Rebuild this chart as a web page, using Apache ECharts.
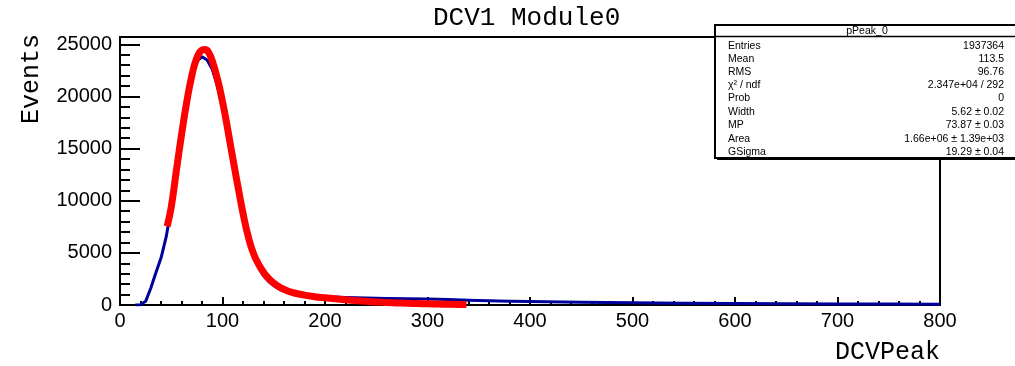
<!DOCTYPE html>
<html><head><meta charset="utf-8">
<script src="https://cdn.jsdelivr.net/npm/echarts@6/dist/echarts.min.js"></script>
<style>html,body{margin:0;padding:0;background:#fff}#c{width:1015px;height:366px}</style>
</head><body><div id="c"></div>
<script>
// Histogram (blue)
const histX = [15,20,25,30,35,40,45,50,55,60,65,70,75,80,85,90,95,100,105,110,115,120,125,130,135,140,145,150,155,160,165,170,180,190,200,220,240,260,280,300,320,340,360,380,400,450,500,550,600,650,700,750,800];
const histY = [0,30,350,1600,3100,4500,6500,9300,12700,16100,19200,21800,23400,23800,23500,22600,21000,18900,16400,13800,11200,8700,6400,4700,3600,2800,2250,1850,1550,1330,1180,1060,920,840,790,720,670,630,600,570,520,460,410,370,330,270,210,170,140,120,105,90,80];
// Fit (red)
const fitX = [46,50,55,60,65,70,75,80,83,86,90,95,100,105,110,115,120,125,130,135,140,145,150,155,160,165,170,180,190,200,210,220,230,240,250,260,270,280,290,300,310,320,330,338];
const fitY = [7550,9400,12900,16300,19400,21950,23700,24450,24500,24300,23400,21700,19500,16900,14100,11400,8800,6600,5000,3950,3150,2550,2100,1750,1500,1300,1150,950,800,690,590,500,420,350,290,240,200,165,135,110,90,70,55,45];
// Stats box
const statTitle = 'pPeak_0';
const statLabels = ['Entries','Mean','RMS','χ² / ndf','Prob','Width','MP','Area','GSigma'];
const statValues = ['1937364','113.5','96.76','2.347e+04 / 292','0','5.62 ± 0.02','73.87 ± 0.03','1.66e+06 ± 1.39e+03','19.29 ± 0.04'];
const chartTitle = 'DCV1 Module0';
const xTitle = 'DCVPeak';
const yTitle = 'Events';

const rowY = [46,59,72,85,98,112.5,125,139,152.5];
const sans = 'Liberation Sans';
const mono = 'Liberation Mono';
const statFont = '10.5px "Liberation Sans"';

const graphic = [
  {type:'text', x:31, y:79, rotation:Math.PI/2, z:100,
   style:{text:yTitle, font:'25px "Liberation Mono"', fill:'#000', align:'center', verticalAlign:'middle'}},
  {type:'group', z:100, children: [
    {type:'rect', shape:{x:717, y:27, width:300, height:133}, style:{fill:'#000'}},
    {type:'rect', shape:{x:715, y:25, width:302, height:133}, style:{fill:'#fff', stroke:'#000', lineWidth:2}},
    {type:'line', shape:{x1:715, y1:36.5, x2:1015, y2:36.5}, style:{stroke:'#000', lineWidth:1.5}},
    {type:'text', x:867, y:31, style:{text:statTitle, font:statFont, fill:'#000', align:'center', verticalAlign:'middle'}}
  ].concat(statLabels.map((t,i)=>({type:'text', x:728, y:rowY[i], style:{text:t, font:statFont, fill:'#000', align:'left', verticalAlign:'middle'}})))
   .concat(statValues.map((t,i)=>({type:'text', x:1004, y:rowY[i], style:{text:t, font:statFont, fill:'#000', align:'right', verticalAlign:'middle'}})))
  }
];

const chart = echarts.init(document.getElementById('c'), null, {renderer:'canvas'});
chart.setOption({
  animation:false,
  backgroundColor:'#fff',
  title:{text:chartTitle, left:433, top:5, padding:0,
    textStyle:{fontFamily:mono, fontSize:26, fontWeight:'normal', color:'#000'}},
  grid:{left:120, right:75, top:37, bottom:61, show:true, borderColor:'#000', borderWidth:2, backgroundColor:'transparent', containLabel:false, outerBoundsMode:'none'},
  xAxis:{type:'value', min:0, max:800, interval:100,
    name:xTitle, nameLocation:'end', nameGap:0,
    nameTextStyle:{fontFamily:mono, fontSize:25, color:'#000', align:'right', verticalAlign:'top', padding:[35,0,0,0]},
    axisLine:{show:true, onZero:false, lineStyle:{color:'#000', width:2}},
    axisTick:{show:true, inside:true, length:8, lineStyle:{color:'#000', width:2}},
    minorTick:{show:true, splitNumber:5, length:4, lineStyle:{color:'#000', width:2}},
    splitLine:{show:false}, minorSplitLine:{show:false},
    axisLabel:{fontFamily:sans, fontSize:20, color:'#000', margin:6}},
  yAxis:[
    {type:'value', min:0, max:25700, interval:5000,
     axisLine:{show:true, lineStyle:{color:'#000', width:2}},
     axisTick:{show:true, inside:true, length:20, lineStyle:{color:'#000', width:2}},
     splitLine:{show:false},
     axisLabel:{fontFamily:sans, fontSize:20, color:'#000', margin:8,
       formatter:v=> (v % 5000 === 0 ? String(v) : '')}},
    {type:'value', min:0, max:25700, interval:1000, position:'left', offset:0,
     axisLine:{show:false},
     axisTick:{show:true, inside:true, length:10, lineStyle:{color:'#000', width:2}},
     splitLine:{show:false}, axisLabel:{show:false}}
  ],
  series:[
    {type:'line', yAxisIndex:0, z:2, showSymbol:false, symbol:'none', sampling:false,
     data:histX.map((x,i)=>[x,histY[i]]),
     lineStyle:{color:'#00009a', width:3, join:'round'}},
    {type:'line', yAxisIndex:0, z:3, showSymbol:false, symbol:'none', smooth:true, sampling:false,
     data:fitX.map((x,i)=>[x,fitY[i]]),
     lineStyle:{color:'#ff0000', width:7, cap:'butt', join:'round'}}
  ],
  graphic:graphic
});
</script></body></html>
